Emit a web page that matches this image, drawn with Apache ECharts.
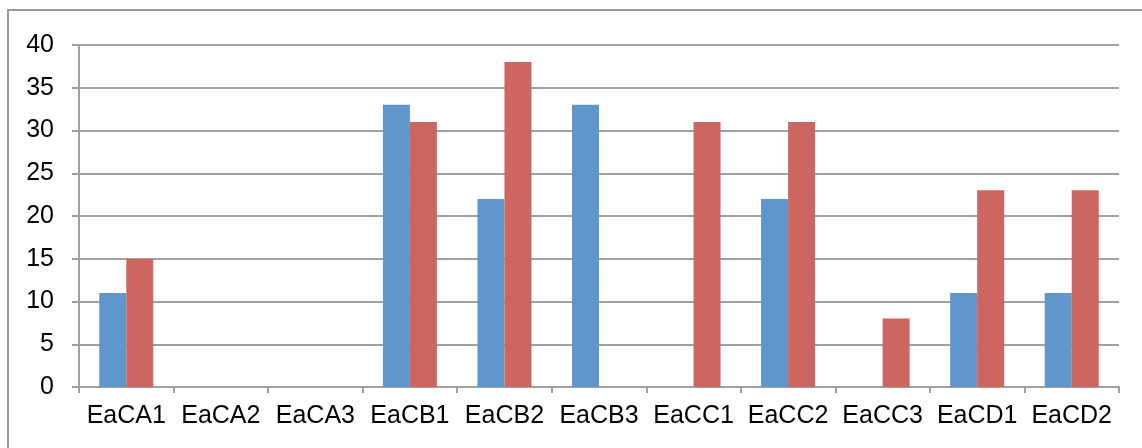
<!DOCTYPE html>
<html>
<head>
<meta charset="utf-8">
<script src="https://cdn.jsdelivr.net/npm/echarts@6/dist/echarts.min.js"></script>
<style>
  html, body { margin: 0; padding: 0; background: #fff; }
  #chart { width: 1142px; height: 448px; }
</style>
</head>
<body>
<div id="chart"></div>
<script>
// Sample labels along the x axis
const categories = ['EaCA1', 'EaCA2', 'EaCA3', 'EaCB1', 'EaCB2', 'EaCB3', 'EaCC1', 'EaCC2', 'EaCC3', 'EaCD1', 'EaCD2'];
// First series (blue)
const seriesBlue = [11, 0, 0, 33, 22, 33, 0, 22, 0, 11, 11];
// Second series (red)
const seriesRed = [15, 0, 0, 31, 38, 0, 31, 31, 8, 23, 23];
// Value axis range
const yMin = 0, yMax = 40, yStep = 5;

const chart = echarts.init(document.getElementById('chart'), null, { renderer: 'canvas' });
const gray = '#a0a0a0';
const font = '"Liberation Sans", Arial, sans-serif';

chart.setOption({
  animation: false,
  backgroundColor: '#ffffff',
  graphic: [{
    type: 'rect',
    shape: { x: 8, y: 10, width: 1300, height: 600 },
    style: { fill: 'none', stroke: '#9a9a9a', lineWidth: 2 },
    silent: true
  }],
  grid: { left: 79, right: 23, top: 45, bottom: 61, containLabel: false },
  xAxis: {
    type: 'category',
    data: categories,
    boundaryGap: true,
    axisLine: { show: true, lineStyle: { color: gray, width: 2 } },
    axisTick: { show: true, length: 6, alignWithLabel: false, lineStyle: { color: gray, width: 2 } },
    axisLabel: { color: '#000', fontSize: 25, fontFamily: font, margin: 17, interval: 0 },
    splitLine: { show: false }
  },
  yAxis: {
    type: 'value',
    min: yMin, max: yMax, interval: yStep,
    axisLine: { show: true, lineStyle: { color: gray, width: 2 } },
    axisTick: { show: true, length: 7, lineStyle: { color: gray, width: 2 } },
    axisLabel: { color: '#000', fontSize: 25, fontFamily: font, margin: 25 },
    splitLine: { show: true, lineStyle: { color: gray, width: 2 } }
  },
  series: [
    {
      type: 'bar',
      data: seriesBlue,
      barWidth: 27,
      barGap: '0%',
      itemStyle: { color: '#5f96cb' }
    },
    {
      type: 'bar',
      data: seriesRed,
      barWidth: 27,
      barGap: '0%',
      itemStyle: { color: '#cd6660' }
    }
  ]
});
</script>
</body>
</html>
